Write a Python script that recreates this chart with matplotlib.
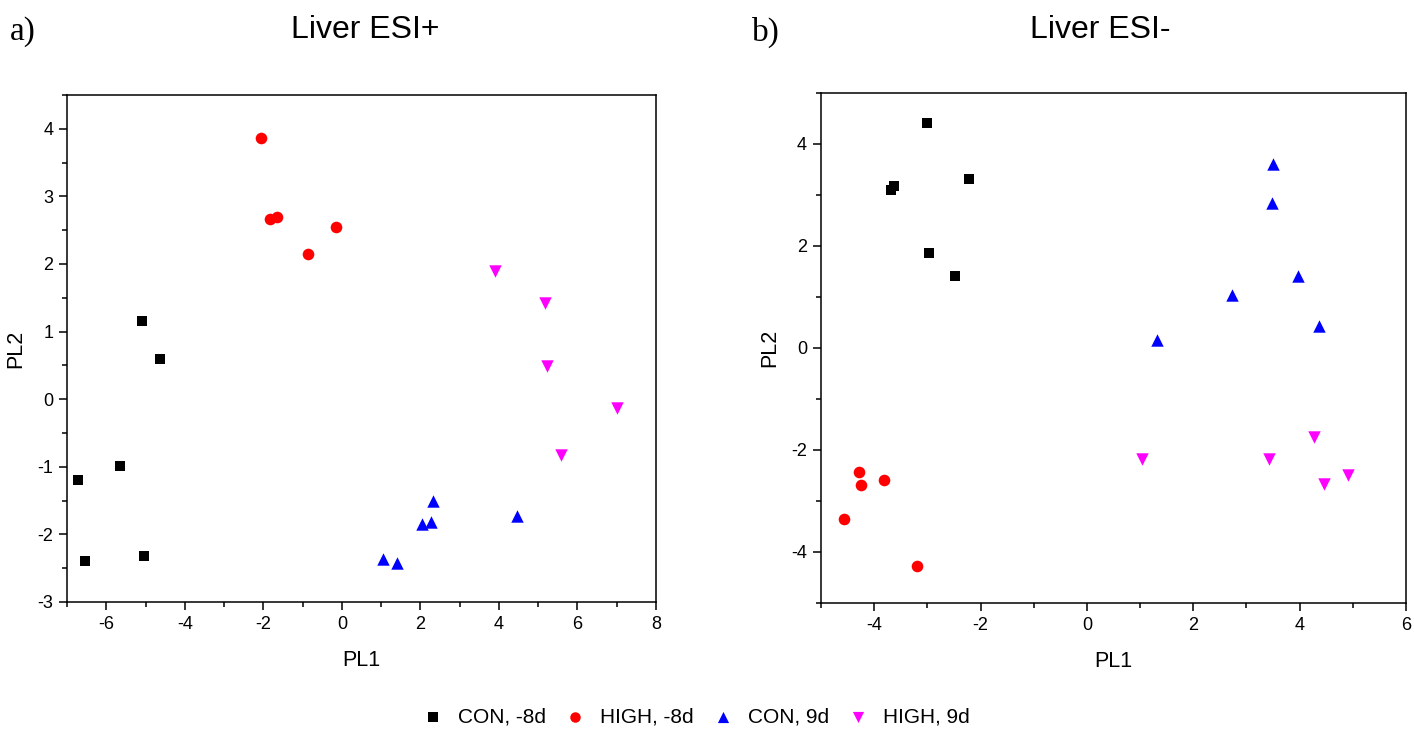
import matplotlib
matplotlib.use("Agg")
import matplotlib.pyplot as plt
from matplotlib.ticker import MultipleLocator

plt.rcParams["font.family"] = ["Liberation Sans", "DejaVu Sans"]
plt.rcParams["axes.unicode_minus"] = False

GROUPS = ["CON, -8d", "HIGH, -8d", "CON, 9d", "HIGH, 9d"]
COLORS = ["#000000", "#ff0000", "#0000ff", "#ff00ff"]
MARKERS = ["s", "o", "^", "v"]
SIZES = [52, 70, 80, 80]

# Liver ESI+ (panel a)
pos_con_m8_x = [-5.09, -4.63, -5.65, -6.72, -6.54, -5.05]
pos_con_m8_y = [1.15, 0.60, -0.99, -1.20, -2.39, -2.32]
pos_high_m8_x = [-2.05, -1.82, -1.64, -0.85, -0.16]
pos_high_m8_y = [3.87, 2.67, 2.70, 2.15, 2.55]
pos_con_9_x = [2.33, 2.05, 2.28, 1.05, 1.41, 4.46]
pos_con_9_y = [-1.51, -1.85, -1.82, -2.36, -2.43, -1.73]
pos_high_9_x = [3.89, 5.17, 5.23, 7.00, 5.57]
pos_high_9_y = [1.90, 1.43, 0.49, -0.13, -0.82]

# Liver ESI- (panel b)
neg_con_m8_x = [-3.01, -3.63, -3.68, -2.22, -2.97, -2.48]
neg_con_m8_y = [4.41, 3.17, 3.09, 3.31, 1.87, 1.42]
neg_high_m8_x = [-4.29, -4.25, -3.82, -4.57, -3.20]
neg_high_m8_y = [-2.44, -2.68, -2.58, -3.35, -4.28]
neg_con_9_x = [3.50, 3.48, 3.97, 2.73, 4.36, 1.32]
neg_con_9_y = [3.61, 2.84, 1.42, 1.04, 0.43, 0.16]
neg_high_9_x = [1.03, 3.42, 4.27, 4.45, 4.91]
neg_high_9_y = [-2.17, -2.17, -1.75, -2.66, -2.50]

pos_series = [
    (pos_con_m8_x, pos_con_m8_y),
    (pos_high_m8_x, pos_high_m8_y),
    (pos_con_9_x, pos_con_9_y),
    (pos_high_9_x, pos_high_9_y),
]
neg_series = [
    (neg_con_m8_x, neg_con_m8_y),
    (neg_high_m8_x, neg_high_m8_y),
    (neg_con_9_x, neg_con_9_y),
    (neg_high_9_x, neg_high_9_y),
]


def style_axes(ax, xlim, ylim, xmajor, ymajor):
    ax.set_xlim(*xlim)
    ax.set_ylim(*ylim)
    ax.xaxis.set_major_locator(MultipleLocator(xmajor))
    ax.xaxis.set_minor_locator(MultipleLocator(xmajor / 2))
    ax.yaxis.set_major_locator(MultipleLocator(ymajor))
    ax.yaxis.set_minor_locator(MultipleLocator(ymajor / 2))
    ax.tick_params(which="both", direction="out", top=False, right=False,
                   width=1.1, labelsize=13, pad=4)
    ax.tick_params(which="major", length=6)
    ax.tick_params(which="minor", length=3.5)
    for sp in ax.spines.values():
        sp.set_linewidth(1.1)
    ax.set_xlabel("PL1", fontsize=15.5, labelpad=12)
    ax.set_ylabel("PL2", fontsize=15.5, labelpad=8)


fig = plt.figure(figsize=(14.14, 7.38), dpi=100)
ax_a = fig.add_axes([0.0474, 0.1843, 0.4165, 0.687])
ax_b = fig.add_axes([0.5806, 0.1830, 0.4137, 0.691])

for ax, series in ((ax_a, pos_series), (ax_b, neg_series)):
    for (xs, ys), label, color, marker, size in zip(series, GROUPS, COLORS, MARKERS, SIZES):
        ax.scatter(xs, ys, s=size, c=color, marker=marker, linewidths=0, label=label,
                   zorder=3)

style_axes(ax_a, (-7, 8), (-3, 4.5), 2, 1)
style_axes(ax_b, (-5, 6), (-5, 5), 2, 2)

fig.text(365 / 1414, 1 - 30 / 738, "Liver ESI+", ha="center", va="center", fontsize=23)
fig.text(1100 / 1414, 1 - 30 / 738, "Liver ESI-", ha="center", va="center", fontsize=23)
fig.text(10 / 1414, 1 - 32 / 738, "a)", ha="left", va="center", fontsize=24,
         family=["Liberation Serif", "DejaVu Serif"])
fig.text(752 / 1414, 1 - 32 / 738, "b)", ha="left", va="center", fontsize=24,
         family=["Liberation Serif", "DejaVu Serif"])

handles, labels = ax_a.get_legend_handles_labels()
fig.legend(handles, labels, loc="center", bbox_to_anchor=(693 / 1414, 1 - 717 / 738),
           ncol=4, frameon=False, fontsize=15, handletextpad=0.4,
           columnspacing=0.6, handlelength=1.6, scatterpoints=1, markerscale=0.9)

fig.savefig("out.png", dpi=100)
